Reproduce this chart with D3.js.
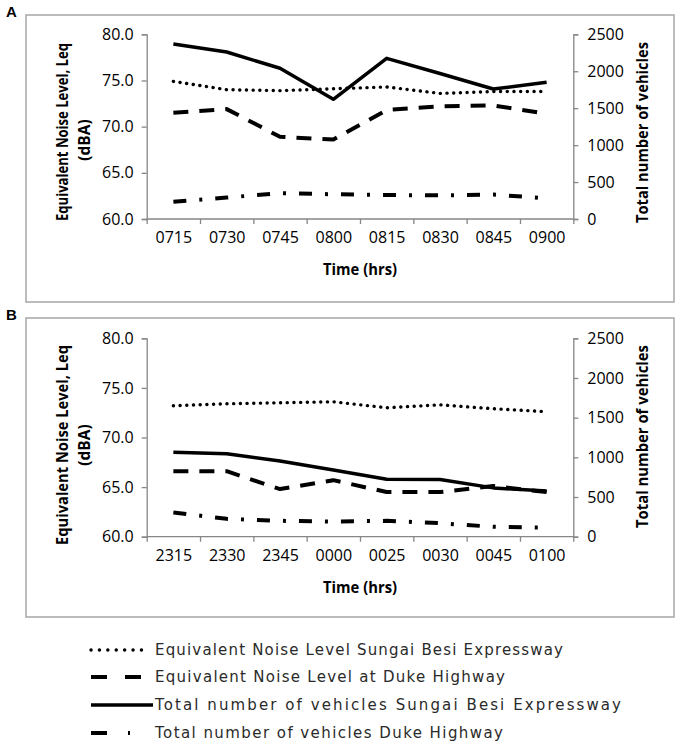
<!DOCTYPE html>
<html>
<head>
<meta charset="utf-8">
<script src="https://cdn.jsdelivr.net/npm/d3@7"></script>
<style>
  body { margin: 0; background: #fff; }
  svg { display: block; font-family: "Open Sans", sans-serif; }
</style>
</head>
<body>
<script>
// times of the two survey sessions
var timesA = ["0715", "0730", "0745", "0800", "0815", "0830", "0845", "0900"];
var timesB = ["2315", "2330", "2345", "0000", "0025", "0030", "0045", "0100"];

// Leq (dBA), left axis
var leqSungaiA = [74.9, 74.0, 73.9, 74.1, 74.3, 73.6, 73.8, 73.8];
var leqDukeA   = [71.5, 71.9, 68.9, 68.6, 71.8, 72.2, 72.3, 71.4];
var leqSungaiB = [73.2, 73.4, 73.5, 73.6, 73.0, 73.3, 72.9, 72.6];
var leqDukeB   = [66.6, 66.6, 64.8, 65.7, 64.5, 64.5, 65.1, 64.5];

// vehicle counts, right axis
var vehSungaiA = [2370, 2260, 2040, 1620, 2175, 1970, 1760, 1850];
var vehDukeA   = [235, 290, 350, 335, 325, 320, 330, 280];
var vehSungaiB = [1065, 1045, 955, 840, 725, 720, 615, 575];
var vehDukeB   = [305, 225, 200, 190, 200, 170, 125, 115];

var leqTicks = [60, 65, 70, 75, 80];
var vehTicks = [0, 500, 1000, 1500, 2000, 2500];

var legendLabels = [
  "Equivalent Noise Level Sungai Besi Expressway",
  "Equivalent Noise Level at Duke Highway",
  "Total number of vehicles Sungai Besi Expressway",
  "Total number of vehicles Duke Highway"
];

var styles = [
  {dash: "0.1,6.6", width: 3.4, cap: "round"},
  {dash: "15,11", width: 4, cap: "butt"},
  {dash: null, width: 3.5, cap: "butt"},
  {dash: "13,13,3,13", width: 4, cap: "butt"}
];

var W = 680, H = 744;
var svg = d3.select("body").append("svg")
  .attr("width", W)
  .attr("height", H);

var axisCol = "#868686";
var font = "'Open Sans', sans-serif";

function panel(p) {
  var g = svg.append("g");

  g.append("rect")
    .attr("x", 26).attr("y", p.boxTop)
    .attr("width", 648).attr("height", p.boxH)
    .attr("fill", "none").attr("stroke", "#a6a6a6").attr("stroke-width", 1.5);

  g.append("text")
    .attr("x", 6).attr("y", p.boxTop + 2)
    .attr("font-weight", "bold").attr("font-size", 15)
    .attr("font-family", "Arial, 'Liberation Sans', sans-serif")
    .text(p.letter);

  var x0 = 146.7, x1 = 573.3;
  var x = d3.scalePoint().domain(p.times).range([x0, x1]).padding(0.5);
  var xb = d3.scaleLinear().domain([0, p.times.length]).range([x0, x1]);
  var yL = d3.scaleLinear().domain([60, 80]).range([p.bottom, p.top]);
  var yR = d3.scaleLinear().domain([0, 2500]).range([p.bottom, p.top]);

  // left axis
  var ax = g.append("g").attr("transform", "translate(" + x0 + ",0)")
    .call(d3.axisLeft(yL).tickValues(leqTicks).tickSize(5).tickPadding(8)
      .tickFormat(d3.format(".1f")));
  // right axis
  var ar = g.append("g").attr("transform", "translate(" + x1 + ",0)")
    .call(d3.axisRight(yR).tickValues(vehTicks).tickSize(5).tickPadding(9)
      .tickFormat(d3.format("d")));
  // bottom axis: labels at centres, ticks between
  var abx = g.append("g").attr("transform", "translate(0," + p.bottom + ")")
    .call(d3.axisBottom(x).tickSize(0).tickPadding(13));
  abx.select(".domain").remove();
  var ab = g.append("g").attr("transform", "translate(0," + p.bottom + ")")
    .call(d3.axisBottom(xb).tickValues(d3.range(p.times.length + 1)).tickSize(5).tickFormat(""));

  [ax, ar, abx, ab].forEach(function(a) {
    a.attr("font-family", font).attr("font-size", 16);
    a.selectAll(".domain, line").attr("stroke", axisCol).attr("stroke-width", 1.3);
    a.selectAll("text").attr("fill", "#000");
  });
  ab.selectAll(".domain").attr("d", "M" + x0 + ",0H" + x1);

  // axis titles
  g.append("text")
    .attr("transform", "translate(68," + p.t1y + ") rotate(-90)")
    .attr("text-anchor", "middle").attr("font-weight", "bold").attr("font-size", 15.5)
    .attr("textLength", p.t1len).attr("lengthAdjust", "spacingAndGlyphs")
    .text("Equivalent Noise Level, Leq");
  g.append("text")
    .attr("transform", "translate(90," + p.t2y + ") rotate(-90)")
    .attr("text-anchor", "middle").attr("font-weight", "bold").attr("font-size", 15.5)
    .text("(dBA)");
  g.append("text")
    .attr("transform", "translate(648," + p.t3y + ") rotate(-90)")
    .attr("text-anchor", "middle").attr("font-weight", "bold").attr("font-size", 15.5)
    .attr("textLength", p.t3len).attr("lengthAdjust", "spacingAndGlyphs")
    .text("Total number of vehicles");
  g.append("text")
    .attr("x", (x0 + x1) / 2).attr("y", p.timeY)
    .attr("text-anchor", "middle").attr("dominant-baseline", "middle")
    .attr("font-weight", "bold").attr("font-size", 15.5)
    .attr("textLength", 74).attr("lengthAdjust", "spacingAndGlyphs")
    .text("Time (hrs)");

  var series = [
    {vals: p.leqS, y: yL},
    {vals: p.leqD, y: yL},
    {vals: p.vehS, y: yR},
    {vals: p.vehD, y: yR}
  ];

  series.forEach(function(s, i) {
    var line = d3.line()
      .x(function(d, j) { return x(p.times[j]); })
      .y(function(d) { return s.y(d); });
    g.append("path")
      .datum(s.vals)
      .attr("d", line)
      .attr("fill", "none")
      .attr("stroke", "#000")
      .attr("stroke-width", styles[i].width)
      .attr("stroke-linecap", styles[i].cap)
      .attr("stroke-linejoin", "round")
      .attr("stroke-dasharray", styles[i].dash);
  });
}

panel({
  letter: "A", boxTop: 15, boxH: 287, top: 34.3, bottom: 219,
  times: timesA, leqS: leqSungaiA, leqD: leqDukeA, vehS: vehSungaiA, vehD: vehDukeA,
  t1y: 132, t1len: 178, t2y: 140, t3y: 132.5, t3len: 181, timeY: 271
});

panel({
  letter: "B", boxTop: 318, boxH: 299, top: 338.3, bottom: 536.7,
  times: timesB, leqS: leqSungaiB, leqD: leqDukeB, vehS: vehSungaiB, vehD: vehDukeB,
  t1y: 445, t1len: 200, t2y: 445, t3y: 436.5, t3len: 183, timeY: 589
});

// legend
var legY = [650, 677, 705, 733];
var legDash = ["0.1,8.3", "16,18", null, "16,21,2,100"];
var legEnd = [148, 142, 153, 130];
var legLen = [408, 350, 466, 348];
var leg = svg.append("g");
legendLabels.forEach(function(lab, i) {
  leg.append("line")
    .attr("x1", 91).attr("x2", legEnd[i])
    .attr("y1", legY[i]).attr("y2", legY[i])
    .attr("stroke", "#000")
    .attr("stroke-width", styles[i].width)
    .attr("stroke-linecap", styles[i].cap)
    .attr("stroke-dasharray", legDash[i]);
  leg.append("text")
    .attr("x", 155).attr("y", legY[i])
    .attr("dominant-baseline", "middle")
    .attr("font-family", "'DejaVu Sans', sans-serif")
    .attr("font-size", 15)
    .attr("textLength", legLen[i]).attr("lengthAdjust", "spacing")
    .attr("fill", "#2a2a2a")
    .text(lab);
});
</script>
</body>
</html>
